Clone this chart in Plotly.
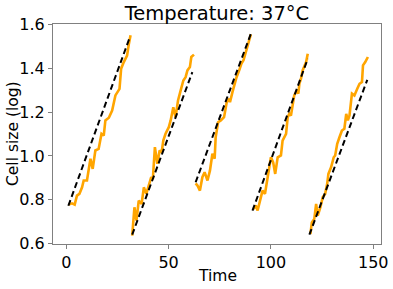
import plotly.graph_objects as go

# ---- data ----
t1 = [1.1, 2.8, 4.1, 5.2, 6.4, 7.7, 8.5, 10.1, 11.8, 12.9, 14.2, 15.8, 17.2, 18.3, 19.1, 20.8, 22.4, 24.0, 26.0, 26.8, 28.1, 29.7, 30.6, 31.4]
y1 = [0.778, 0.784, 0.778, 0.819, 0.827, 0.857, 0.888, 0.888, 0.987, 0.941, 1.025, 1.032, 1.101, 1.093, 1.162, 1.174, 1.207, 1.276, 1.306, 1.398, 1.428, 1.458, 1.512, 1.550]

t2 = [32.2, 33.3, 34.3, 35.4, 36.8, 37.9, 39.1, 40.3, 41.5, 42.3, 43.3, 44.5, 45.6, 46.6, 47.4, 48.5, 50.1, 51.0, 52.3, 53.4, 54.6, 55.9, 57.2, 58.3, 59.2, 60.4, 61.1, 62.4]
y2 = [0.637, 0.766, 0.705, 0.796, 0.781, 0.857, 0.827, 0.865, 0.903, 0.895, 1.040, 0.964, 1.025, 1.017, 1.070, 1.101, 1.131, 1.162, 1.222, 1.177, 1.253, 1.299, 1.344, 1.359, 1.390, 1.405, 1.451, 1.462]

t3 = [63.2, 64.1, 65.3, 66.5, 67.6, 69.0, 70.2, 71.4, 72.5, 73.0, 74.2, 75.5, 77.1, 78.4, 79.6, 80.0, 81.2, 82.0, 83.2, 84.5, 85.6, 86.6, 87.7, 88.9, 90.2]
y3 = [0.875, 0.865, 0.842, 0.903, 0.926, 0.888, 0.933, 1.010, 0.987, 1.085, 1.154, 1.162, 1.177, 1.245, 1.261, 1.245, 1.291, 1.321, 1.359, 1.390, 1.421, 1.436, 1.474, 1.504, 1.554]

t4 = [91.5, 92.6, 93.5, 94.8, 95.9, 97.1, 98.4, 100.0, 101.1, 102.1, 103.3, 104.9, 105.7, 106.5, 107.4, 108.2, 109.0, 109.8, 110.6, 111.4, 112.7, 113.4, 113.9, 114.7, 115.5, 116.3, 117.2, 118.0]
y4 = [0.758, 0.774, 0.751, 0.796, 0.842, 0.827, 0.903, 0.994, 0.971, 0.918, 0.994, 1.002, 1.070, 1.085, 1.101, 1.177, 1.192, 1.184, 1.222, 1.276, 1.299, 1.284, 1.329, 1.352, 1.390, 1.413, 1.428, 1.466]

t5 = [119.3, 120.0, 121.2, 122.1, 122.9, 124.2, 125.3, 126.5, 127.5, 128.1, 129.4, 130.7, 131.4, 132.4, 133.5, 134.7, 135.9, 136.8, 137.6, 138.4, 139.6, 140.8, 142.2, 143.3, 144.5, 145.0, 146.1, 147.4]
y5 = [0.644, 0.697, 0.713, 0.781, 0.728, 0.766, 0.811, 0.827, 0.873, 0.918, 0.948, 0.994, 1.002, 1.055, 1.085, 1.116, 1.124, 1.192, 1.162, 1.184, 1.284, 1.276, 1.306, 1.329, 1.337, 1.413, 1.428, 1.451]

# linear fits per cycle: start/end time and fitted value
fit_t_start = [1.0, 32.2, 63.2, 91.0, 118.8]
fit_t_end = [31.0, 61.6, 90.2, 118.0, 147.1]
fit_y_start = [0.773, 0.641, 0.880, 0.751, 0.641]
fit_y_end = [1.540, 1.382, 1.557, 1.443, 1.347]

x_ticks = [0, 50, 100, 150]
y_ticks = [0.6, 0.8, 1.0, 1.2, 1.4, 1.6]

fig = go.Figure()

for t, y in [(t1, y1), (t2, y2), (t3, y3), (t4, y4), (t5, y5)]:
    fig.add_trace(go.Scatter(x=t, y=y, mode="lines",
                             line=dict(color="#FFA500", width=2.6),
                             showlegend=False, hoverinfo="skip"))

for a, b, ya, yb in zip(fit_t_start, fit_t_end, fit_y_start, fit_y_end):
    fig.add_trace(go.Scatter(x=[a, b], y=[ya, yb], mode="lines",
                             line=dict(color="black", width=2, dash="6px,3.5px"),
                             showlegend=False, hoverinfo="skip"))

font = "DejaVu Sans"
axis_common = dict(showline=True, linecolor="#808080", linewidth=1, mirror=True,
                   ticks="outside", ticklen=4, tickcolor="#808080", tickwidth=1,
                   showgrid=False, zeroline=False, automargin=False,
                   tickfont=dict(family=font, size=16, color="black"))

W, H = 393, 289
fig.update_layout(
    width=W, height=H,
    margin=dict(l=53, r=12, t=24, b=45),
    paper_bgcolor="white", plot_bgcolor="white",
    title=dict(text="Temperature: 37°C", x=0.5, xref="paper", xanchor="center",
               y=1 - 13 / H, yanchor="middle",
               font=dict(family=font, size=19.5, color="black")),
    xaxis=dict(range=[-6.5, 153.8], tickvals=x_ticks, ticklabelstandoff=0, **axis_common),
    yaxis=dict(range=[0.5985, 1.6015], tickvals=y_ticks, tickformat=".1f", **axis_common),
    annotations=[
        dict(text="Time", xref="paper", x=0.5, yref="paper", y=-32 / 220,
             xanchor="center", yanchor="middle", showarrow=False,
             font=dict(family=font, size=15.5, color="black")),
        dict(text="Cell size (log)", xref="paper", x=-40 / 328, yref="paper", y=0.5,
             xanchor="center", yanchor="middle", textangle=-90, showarrow=False,
             font=dict(family=font, size=15.5, color="black")),
    ],
)

# remove the browser's default 8px body margin so the figure fills the window
fig.write_html("out.html",
               config={"displayModeBar": False, "staticPlot": True},
               post_script="document.body.style.margin='0';document.body.style.overflow='hidden';")
